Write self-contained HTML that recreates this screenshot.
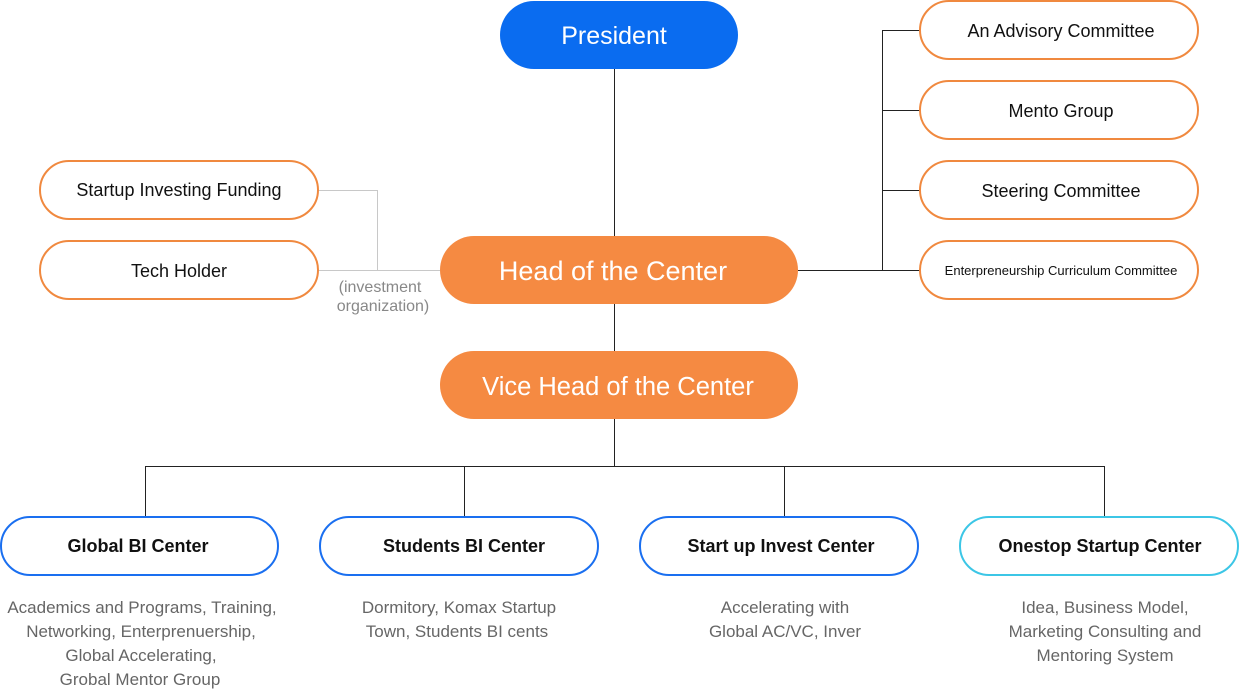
<!DOCTYPE html>
<html><head><meta charset="utf-8"><style>
html,body{margin:0;padding:0;background:#fff;}
svg{display:block;}
text{font-family:"Liberation Sans",sans-serif;}
</style></head><body>
<svg width="1240" height="700" viewBox="0 0 1240 700" xmlns="http://www.w3.org/2000/svg">
<g stroke="#222" stroke-width="1" fill="none">
<line x1="614.5" y1="69" x2="614.5" y2="236"/>
<line x1="614.5" y1="304" x2="614.5" y2="351"/>
<line x1="614.5" y1="419" x2="614.5" y2="466"/>
<line x1="145" y1="466.5" x2="1104" y2="466.5"/>
<line x1="145.5" y1="466" x2="145.5" y2="517"/>
<line x1="464.5" y1="466" x2="464.5" y2="517"/>
<line x1="784.5" y1="466" x2="784.5" y2="517"/>
<line x1="1104.5" y1="466" x2="1104.5" y2="517"/>
<line x1="798" y1="270.5" x2="920" y2="270.5"/>
<line x1="882.5" y1="30" x2="882.5" y2="270"/>
<line x1="882" y1="30.5" x2="920" y2="30.5"/>
<line x1="882" y1="110.5" x2="920" y2="110.5"/>
<line x1="882" y1="190.5" x2="920" y2="190.5"/>
</g>
<g stroke="#c8c8c8" stroke-width="1" fill="none">
<polyline points="318,190.5 377.5,190.5 377.5,270.5"/>
<line x1="318" y1="270.5" x2="440" y2="270.5"/>
</g>
<rect x="500" y="1" width="238" height="68" rx="34" fill="#0a6cf0"/>
<text x="614" y="44" font-size="25" fill="#fff" text-anchor="middle">President</text>
<rect x="440" y="236" width="358" height="68" rx="34" fill="#f58a42"/>
<text x="613" y="280" font-size="27" fill="#fff" text-anchor="middle">Head of the Center</text>
<rect x="440" y="351" width="358" height="68" rx="34" fill="#f58a42"/>
<text x="618" y="395" font-size="25.5" fill="#fff" text-anchor="middle">Vice Head of the Center</text>
<g fill="#fff" stroke="#f0893f" stroke-width="2">
<rect x="40" y="161" width="278" height="58" rx="29"/>
<rect x="40" y="241" width="278" height="58" rx="29"/>
<rect x="920" y="1" width="278" height="58" rx="29"/>
<rect x="920" y="81" width="278" height="58" rx="29"/>
<rect x="920" y="161" width="278" height="58" rx="29"/>
<rect x="920" y="241" width="278" height="58" rx="29"/>
</g>
<g font-size="18" fill="#111" text-anchor="middle">
<text x="179" y="196">Startup Investing Funding</text>
<text x="179" y="277">Tech Holder</text>
<text x="1061" y="37">An Advisory Committee</text>
<text x="1061" y="117">Mento Group</text>
<text x="1061" y="197">Steering Committee</text>
<text x="1061" y="275" font-size="13">Enterpreneurship Curriculum Committee</text>
</g>
<g font-size="16" fill="#888" text-anchor="middle">
<text x="380" y="292">(investment</text>
<text x="383" y="311">organization)</text>
</g>
<g fill="#fff" stroke-width="2">
<rect x="1" y="517" width="277" height="58" rx="29" stroke="#1a6ff0"/>
<rect x="320" y="517" width="278" height="58" rx="29" stroke="#1a6ff0"/>
<rect x="640" y="517" width="278" height="58" rx="29" stroke="#1a6ff0"/>
<rect x="960" y="517" width="278" height="58" rx="29" stroke="#3cc6e6"/>
</g>
<g font-size="18" font-weight="bold" fill="#111" text-anchor="middle">
<text x="138" y="552">Global BI Center</text>
<text x="464" y="552">Students BI Center</text>
<text x="781" y="552">Start up Invest Center</text>
<text x="1100" y="552">Onestop Startup Center</text>
</g>
<g font-size="17" fill="#666" text-anchor="middle">
<text x="142" y="613">Academics and Programs, Training,</text>
<text x="141" y="637">Networking, Enterprenuership,</text>
<text x="141" y="661">Global Accelerating,</text>
<text x="140" y="685">Grobal Mentor Group</text>
<text x="459" y="613">Dormitory, Komax Startup</text>
<text x="457" y="637">Town, Students BI cents</text>
<text x="785" y="613">Accelerating with</text>
<text x="785" y="637">Global AC/VC, Inver</text>
<text x="1105" y="613">Idea, Business Model,</text>
<text x="1105" y="637">Marketing Consulting and</text>
<text x="1105" y="661">Mentoring System</text>
</g>
</svg>
</body></html>
